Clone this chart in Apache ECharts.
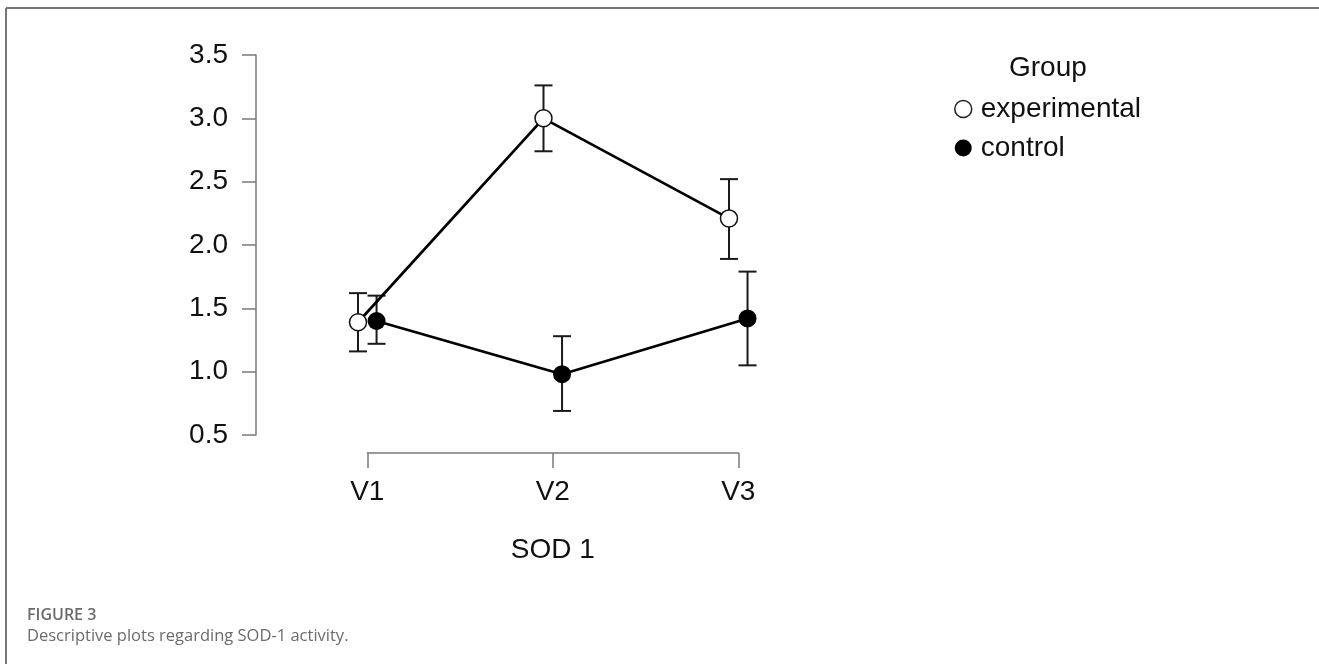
<!DOCTYPE html>
<html>
<head>
<meta charset="utf-8">
<script src="https://cdn.jsdelivr.net/npm/echarts@6/dist/echarts.min.js"></script>
<style>
  html, body { margin: 0; padding: 0; background: #fff; }
  #chart { width: 1319px; height: 664px; }
</style>
</head>
<body>
<div id="chart"></div>
<script>
// ---- data ----
const categories = ['V1', 'V2', 'V3'];
const yTicks = [0.5, 1.0, 1.5, 2.0, 2.5, 3.0, 3.5];
const seriesNames = ['experimental', 'control'];
const expMean  = [1.39, 3.00, 2.21];
const expLower = [1.16, 2.74, 1.89];
const expUpper = [1.62, 3.26, 2.52];
const ctrlMean  = [1.40, 0.98, 1.42];
const ctrlLower = [1.22, 0.69, 1.05];
const ctrlUpper = [1.60, 1.28, 1.79];
const xLabel = 'SOD 1';
const legendTitle = 'Group';
const figureLabel = 'FIGURE 3';
const captionText = 'Descriptive plots regarding SOD-1 activity.';

// dodge of the two groups around each category (in category units)
const dodge = 0.05;

const FONT = '"Liberation Sans", Arial, sans-serif';
const AXIS_GREY = '#7a7a7a';

function pts(means, off) {
  return means.map((v, i) => [i + 1 + off, v]);
}
function bars(lower, upper, off) {
  return lower.map((lo, i) => [i + 1 + off, lo, upper[i]]);
}

function errRender(params, api) {
  const x = api.value(0);
  const lo = api.coord([x, api.value(1)]);
  const hi = api.coord([x, api.value(2)]);
  const hw = 9;
  const style = { stroke: '#1a1a1a', lineWidth: 2 };
  return {
    type: 'group',
    children: [
      { type: 'line', shape: { x1: lo[0], y1: lo[1], x2: hi[0], y2: hi[1] }, style },
      { type: 'line', shape: { x1: hi[0] - hw, y1: hi[1], x2: hi[0] + hw, y2: hi[1] }, style },
      { type: 'line', shape: { x1: lo[0] - hw, y1: lo[1], x2: lo[0] + hw, y2: lo[1] }, style }
    ]
  };
}

const chart = echarts.init(document.getElementById('chart'), null, { renderer: 'canvas' });

const option = {
  animation: false,
  backgroundColor: '#fff',
  textStyle: { fontFamily: FONT },
  title: {
    text: legendTitle,
    left: 1004,
    top: 49,
    textStyle: { fontFamily: FONT, fontSize: 28, fontWeight: 'normal', color: '#111' }
  },
  legend: {
    orient: 'vertical',
    left: 949,
    top: 90,
    icon: 'circle',
    itemWidth: 17,
    itemHeight: 17,
    itemGap: 11,
    textStyle: { fontFamily: FONT, fontSize: 28, color: '#111', lineHeight: 28, padding: [0, 0, 0, 4] },
    data: [
      { name: seriesNames[0], itemStyle: { color: '#fff', borderColor: '#222', borderWidth: 1.5 } },
      { name: seriesNames[1], itemStyle: { color: '#000', borderWidth: 0 } }
    ]
  },
  grid: [
    { left: 256, top: 55, width: 575, height: 380 },
    { left: 367.3, top: 400, width: 371, height: 53 }
  ],
  xAxis: [
    { gridIndex: 0, type: 'value', min: 0.4, max: 3.5, show: false },
    {
      gridIndex: 1, type: 'value', min: 1, max: 3, interval: 1, position: 'bottom',
      axisLine: { show: true, lineStyle: { color: AXIS_GREY, width: 1.5 } },
      axisTick: { show: true, length: 15, lineStyle: { color: AXIS_GREY, width: 1.5 } },
      splitLine: { show: false },
      axisLabel: {
        margin: 25, fontSize: 28, color: '#111', fontFamily: FONT,
        formatter: v => categories[Math.round(v) - 1] || ''
      },
      name: xLabel,
      nameLocation: 'middle',
      nameGap: 83,
      nameTextStyle: { fontSize: 28, color: '#111', fontFamily: FONT }
    }
  ],
  yAxis: [
    {
      gridIndex: 0, type: 'value', min: yTicks[0], max: yTicks[yTicks.length - 1], interval: 0.5,
      axisLine: { show: true, lineStyle: { color: AXIS_GREY, width: 1.5 } },
      axisTick: { show: true, length: 14, lineStyle: { color: AXIS_GREY, width: 1.5 } },
      splitLine: { show: false },
      axisLabel: {
        margin: 28, fontSize: 28, color: '#111', fontFamily: FONT,
        formatter: v => v.toFixed(1)
      }
    },
    { gridIndex: 1, type: 'value', show: false }
  ],
  series: [
    {
      type: 'custom', name: 'err-exp', xAxisIndex: 0, yAxisIndex: 0, z: 1,
      renderItem: errRender, data: bars(expLower, expUpper, -dodge), silent: true
    },
    {
      type: 'custom', name: 'err-ctrl', xAxisIndex: 0, yAxisIndex: 0, z: 1,
      renderItem: errRender, data: bars(ctrlLower, ctrlUpper, dodge), silent: true
    },
    {
      type: 'line', name: seriesNames[0], xAxisIndex: 0, yAxisIndex: 0, z: 3,
      data: pts(expMean, -dodge),
      symbol: 'circle', symbolSize: 17,
      lineStyle: { color: '#000', width: 2.7 },
      itemStyle: { color: '#fff', borderColor: '#111', borderWidth: 1.5 }
    },
    {
      type: 'line', name: seriesNames[1], xAxisIndex: 0, yAxisIndex: 0, z: 3,
      data: pts(ctrlMean, dodge),
      symbol: 'circle', symbolSize: 18,
      lineStyle: { color: '#000', width: 2.7 },
      itemStyle: { color: '#000', borderWidth: 0 }
    }
  ],
  graphic: [
    { type: 'line', shape: { x1: 6, y1: 8, x2: 1319, y2: 8 }, style: { stroke: '#777', lineWidth: 2 } },
    { type: 'line', shape: { x1: 6, y1: 8, x2: 6, y2: 664 }, style: { stroke: '#777', lineWidth: 2 } },
    {
      type: 'text', left: 27, top: 607,
      style: { text: figureLabel, font: '600 16px "Open Sans", sans-serif', fill: '#6b6b6b' }
    },
    {
      type: 'text', left: 27, top: 628,
      style: { text: captionText, font: '16.5px "Open Sans", sans-serif', fill: '#6b6b6b' }
    }
  ]
};

chart.setOption(option);
</script>
</body>
</html>
